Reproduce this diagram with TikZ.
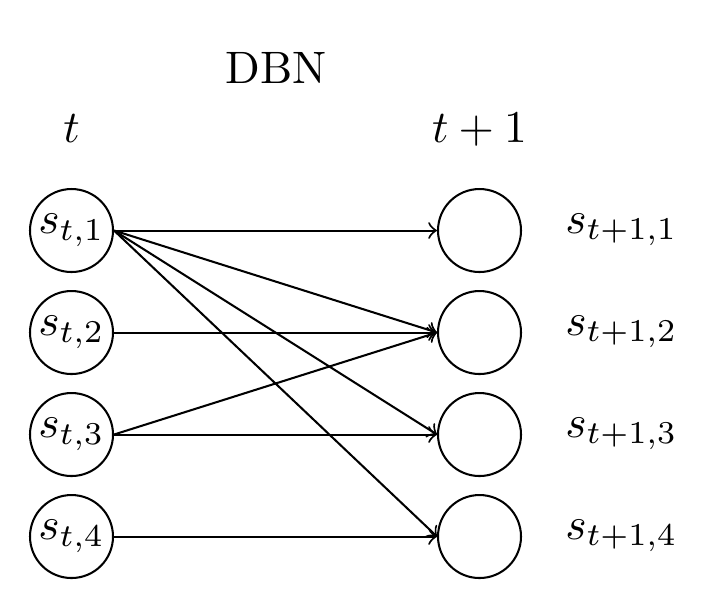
\documentclass[tikz,border=0pt]{standalone}
\begin{document}
\begin{tikzpicture}[x=0.22pt,y=-0.22pt,
  statenode/.style={draw,circle,minimum size=18.26pt,inner sep=0pt,line width=0.45pt},
  lbl/.style={anchor=base,inner sep=0pt},
  arr/.style={->,line width=0.45pt}]
\useasboundingbox (0,0) rectangle (704,614);
\node[lbl] (title) at (276,83) {DBN};
\node[lbl] (tl) at (71.5,142) {$t$};
\node[lbl] (tr) at (479.5,142) {$t+1$};
\foreach \i/\y in {1/230.5,2/332.5,3/434.5,4/536.5}{
  \node[statenode] (a\i) at (71.5,\y) {$s_{t,\i}$};
  \node[statenode] (b\i) at (479.5,\y) {};
  \node[lbl] (c\i) at (621.5,\y+2.5) {$s_{t+1,\i}$};
}
\draw[arr] (a1.east) -- (b1.west);
\draw[arr] (a1.east) -- (b2.west);
\draw[arr] (a1.east) -- (b3.west);
\draw[arr] (a1.east) -- (b4.west);
\draw[arr] (a2.east) -- (b2.west);
\draw[arr] (a3.east) -- (b2.west);
\draw[arr] (a3.east) -- (b3.west);
\draw[arr] (a4.east) -- (b4.west);
\end{tikzpicture}
\end{document}
